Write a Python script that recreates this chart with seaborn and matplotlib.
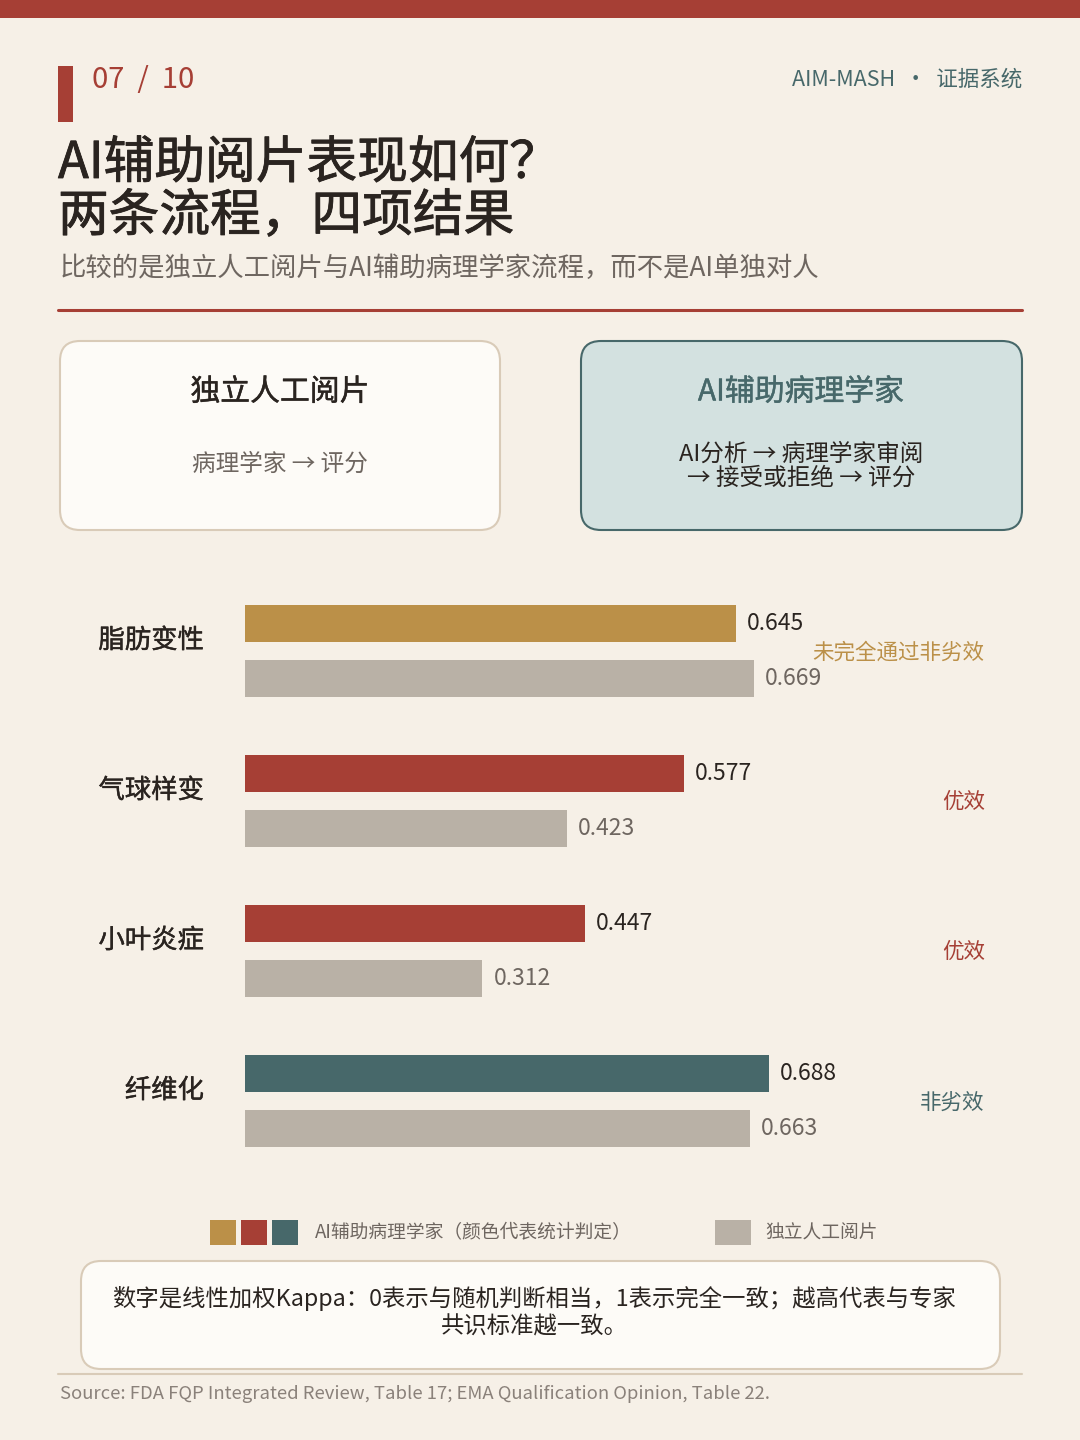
import pandas as pd
import seaborn as sns
import matplotlib.pyplot as plt
from matplotlib.patches import FancyBboxPatch, Rectangle
import matplotlib.transforms as mtransforms
import matplotlib.patheffects as pe

# data
outcomes = ['脂肪变性', '气球样变', '小叶炎症', '纤维化']
ai_kappa = [0.645, 0.577, 0.447, 0.688]
manual_kappa = [0.669, 0.423, 0.312, 0.663]
verdicts = ['未完全通过非劣效', '优效', '优效', '非劣效']
verdict_colors = ['#bb9048', '#a63f35', '#a63f35', '#47686a']
readers = ['AI辅助病理学家', '独立人工阅片']

BG = '#f6f0e7'
RED = '#a63f35'
TEAL = '#47686a'
GRAY = '#b9b1a6'
DARK = '#2a2420'
MID = '#6e6660'

sns.set_theme(style='white')
plt.rcParams['font.family'] = ['Noto Sans CJK SC', 'DejaVu Sans']


def heavy(color, w=0.4):
    # a thin outline to get a medium weight look
    return [pe.withStroke(linewidth=w, foreground=color)]


df = pd.DataFrame({
    'outcome': outcomes * 2,
    'kappa': ai_kappa + manual_kappa,
    'reader': [readers[0]] * 4 + [readers[1]] * 4,
})

fig = plt.figure(figsize=(10.8, 14.4), dpi=100, facecolor=BG)

# background layer in pixel coordinates
bg = fig.add_axes([0, 0, 1, 1], zorder=0)
bg.set_xlim(0, 1080)
bg.set_ylim(1440, 0)
bg.axis('off')

bg.add_patch(Rectangle((0, 0), 1080, 18, color=RED, lw=0))
bg.add_patch(Rectangle((58, 66), 15, 56, color=RED, lw=0))
bg.text(92, 80, '07  /  10', color=RED, fontsize=21, va='center', ha='left')
bg.text(1022, 80, 'AIM-MASH  ·  证据系统', color=TEAL, fontsize=15.5, va='center', ha='right')
bg.text(58, 164, 'AI辅助阅片表现如何？', color=DARK, fontsize=36.5, va='center',
        path_effects=heavy(DARK, 0.6))
bg.text(58, 217, '两条流程，四项结果', color=DARK, fontsize=36.5, va='center',
        path_effects=heavy(DARK, 0.6))
bg.text(60, 268, '比较的是独立人工阅片与AI辅助病理学家流程，而不是AI单独对人', color=MID,
        fontsize=19, va='center')
bg.plot([58, 1022], [310, 310], color=RED, lw=2.2)

# workflow boxes
bg.add_patch(FancyBboxPatch((60, 341), 440, 189, boxstyle='round,pad=0,rounding_size=20',
                            fc='#fdfbf7', ec='#d9cbb8', lw=1.5))
bg.add_patch(FancyBboxPatch((581, 341), 441, 189, boxstyle='round,pad=0,rounding_size=20',
                            fc='#d3e1e0', ec=TEAL, lw=1.5))
bg.text(280, 392, '独立人工阅片', color=DARK, fontsize=21.5, ha='center', va='center',
        path_effects=heavy(DARK, 0.3))
bg.text(280, 464, '病理学家 → 评分', color=MID, fontsize=17, ha='center', va='center')
bg.text(801, 392, 'AI辅助病理学家', color=TEAL, fontsize=21.5, ha='center', va='center',
        path_effects=heavy(TEAL, 0.3))
bg.text(801, 466, 'AI分析 → 病理学家审阅\n→ 接受或拒绝 → 评分', color=DARK, fontsize=17,
        ha='center', va='center', linespacing=1.05)

# legend
for x0, c in zip([210, 241, 272], ['#bb9048', RED, TEAL]):
    bg.add_patch(Rectangle((x0, 1220), 26, 25, color=c, lw=0))
bg.text(315, 1233, 'AI辅助病理学家（颜色代表统计判定）', color=MID, fontsize=13.5, va='center')
bg.add_patch(Rectangle((715, 1220), 36, 25, color=GRAY, lw=0))
bg.text(765, 1233, '独立人工阅片', color=MID, fontsize=13.5, va='center')

# note box
bg.add_patch(FancyBboxPatch((81, 1261), 919, 108, boxstyle='round,pad=0,rounding_size=20',
                            fc='#fdfbf7', ec='#d9cbb8', lw=1.5))
bg.text(534, 1312, '数字是线性加权Kappa：0表示与随机判断相当，1表示完全一致；越高代表与专家\n共识标准越一致。',
        color=DARK, fontsize=16.8, ha='center', va='center', linespacing=1.25)
bg.plot([58, 1022], [1374, 1374], color='#d9cbb8', lw=1.5)
bg.text(60, 1394, 'Source: FDA FQP Integrated Review, Table 17; EMA Qualification Opinion, Table 22.',
        color='#8a817a', fontsize=13.3, va='center')

# bar chart
ax = fig.add_axes([245 / 1080, (1440 - 1176) / 1440, 761 / 1080, 600 / 1440], zorder=2)
ax.patch.set_alpha(0)
sns.barplot(data=df, x='kappa', y='outcome', hue='reader', order=outcomes, hue_order=readers,
            palette={readers[0]: RED, readers[1]: GRAY}, width=0.733, gap=0.31,
            legend=False, ax=ax, saturation=1)
for bar, c in zip(ax.containers[0], verdict_colors):
    bar.set_facecolor(c)
    bar.set_edgecolor('none')
for bar in ax.containers[1]:
    bar.set_edgecolor('none')

ax.bar_label(ax.containers[0], fmt='%.3f', padding=8, fontsize=16.5, color=DARK)
ax.bar_label(ax.containers[1], fmt='%.3f', padding=8, fontsize=16.5, color=MID)

ax.set_xlim(0, 1)
ax.set_ylim(3.5, -0.5)
ax.set_xticks([])
ax.set_yticks([])
ax.set_xlabel('')
ax.set_ylabel('')
sns.despine(ax=ax, left=True, bottom=True)

trans = mtransforms.blended_transform_factory(ax.transAxes, ax.transData)
for i, (name, v, vc) in enumerate(zip(outcomes, verdicts, verdict_colors)):
    ax.text(-0.054, i - 0.07, name, transform=trans, ha='right', va='center',
            fontsize=19, color=DARK, path_effects=heavy(DARK, 0.3))
    ax.text(0.972, i + 0.01, v, ha='right', va='center', fontsize=15.5, color=vc)

fig.savefig('out.png', dpi=100, facecolor=BG)
